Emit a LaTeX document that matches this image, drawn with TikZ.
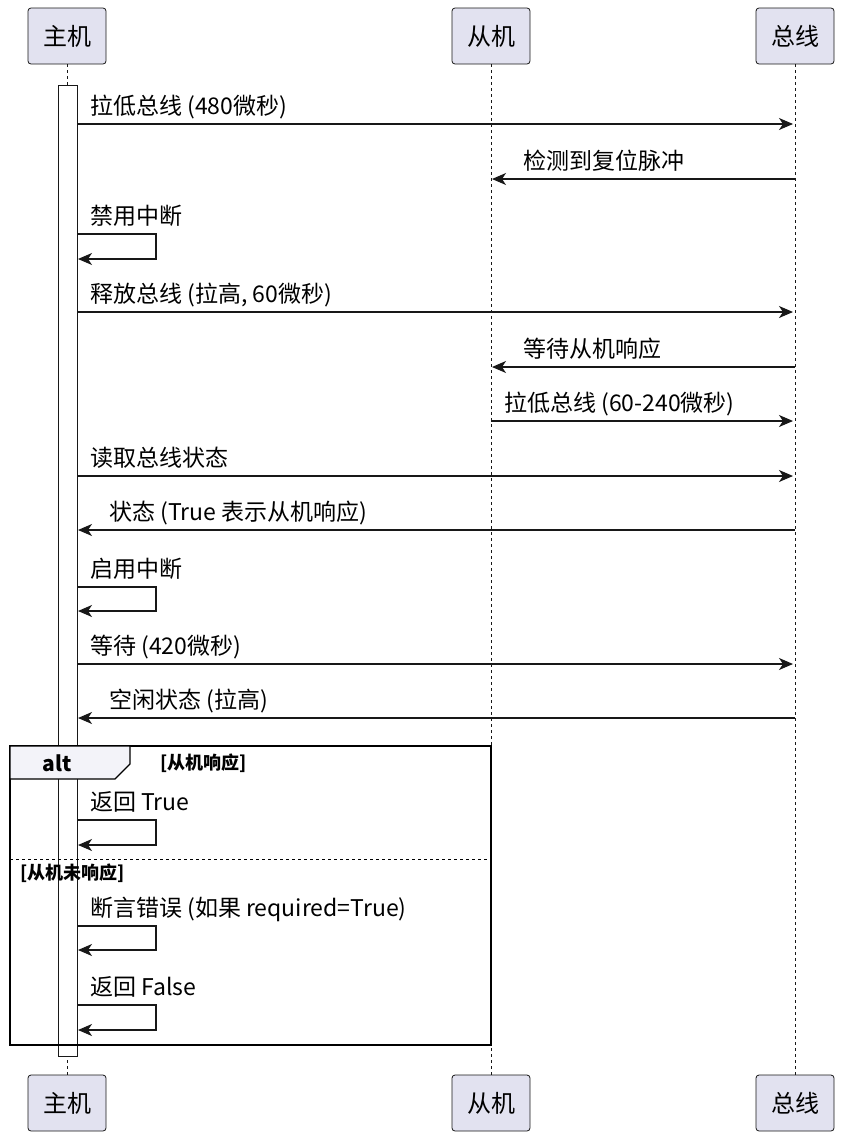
\documentclass[tikz,border=0pt]{standalone}
\usepackage{fontspec}
\setmainfont{Noto Sans CJK SC}
\usetikzlibrary{arrows.meta}
\definecolor{ln}{HTML}{181818}
\definecolor{pf}{HTML}{E2E2F0}
\begin{document}
\begin{tikzpicture}[x=1pt,y=-1pt,
  part/.style={draw=ln,fill=pf,rounded corners=3pt,minimum width=78pt,minimum height=56pt,font=\fontsize{24}{24}\selectfont,line width=0.8pt},
  msg/.style={draw=ln,line width=1.2pt,-{Stealth[length=14pt,width=12pt,inset=4pt]}},
  lbl/.style={anchor=base west,inner sep=0pt,font=\fontsize{23}{23}\selectfont,text=black},
  cond/.style={anchor=base west,inner sep=0pt,font=\bfseries\fontsize{18}{18}\selectfont},
  life/.style={draw=ln,dashed,line width=0.8pt}]
\useasboundingbox (0,0) rectangle (844,1138);
\node[part] (m1) at (67,36) {主机};
\node[part] (s1) at (491,36) {从机};
\node[part] (b1) at (795,36) {总线};
\node[part] (m2) at (67,1103) {主机};
\node[part] (s2) at (491,1103) {从机};
\node[part] (b2) at (795,1103) {总线};
\draw[life] (m1.south) -- (m2.north);
\draw[life] (s1.south) -- (s2.north);
\draw[life] (b1.south) -- (b2.north);
\draw[draw=ln,fill=white,line width=0.8pt] (58,85) rectangle (77,1056);
% alt frame
\draw[draw=black,line width=1.6pt] (10,746) rectangle (491,1045);
\draw[draw=black,fill=pf!40,line width=1.2pt] (10,746) -- (130,746) -- (130,764) -- (115,779) -- (10,779) -- cycle;
\node[anchor=center,font=\bfseries\fontsize{21}{21}\selectfont] (alt) at (57,763) {alt};
\node[cond] (c1) at (160,769) {[从机响应]};
\draw[dashed,line width=0.8pt] (10,859) -- (491,859);
\node[cond] (c2) at (20,879) {[从机未响应]};
\newcommand\selfm[2]{\draw[msg] (77,#1) -- (156,#1) -- (156,#2) -- (78,#2);}
\draw[msg] (77,124) -- (793,124); \node[lbl] at (90,114) {拉低总线 (480微秒)};
\draw[msg] (795,179) -- (492,179); \node[lbl] at (523,169) {检测到复位脉冲};
\selfm{234}{259} \node[lbl] at (90,224) {禁用中断};
\draw[msg] (77,312) -- (793,312); \node[lbl] at (90,302) {释放总线 (拉高, 60微秒)};
\draw[msg] (795,367) -- (492,367); \node[lbl] at (523,357) {等待从机响应};
\draw[msg] (491,421) -- (793,421); \node[lbl] at (504,411) {拉低总线 (60-240微秒)};
\draw[msg] (77,476) -- (793,476); \node[lbl] at (90,466) {读取总线状态};
\draw[msg] (795,530) -- (78,530); \node[lbl] at (109,520) {状态 (True 表示从机响应)};
\selfm{587}{611} \node[lbl] at (90,577) {启用中断};
\draw[msg] (77,664) -- (793,664); \node[lbl] at (90,654) {等待 (420微秒)};
\draw[msg] (795,718) -- (78,718); \node[lbl] at (109,708) {空闲状态 (拉高)};
\selfm{820}{845} \node[lbl] at (90,810) {返回 True};
\selfm{926}{950} \node[lbl] at (90,916) {断言错误 (如果 required=True)};
\selfm{1005}{1030} \node[lbl] at (90,995) {返回 False};
\end{tikzpicture}
\end{document}
